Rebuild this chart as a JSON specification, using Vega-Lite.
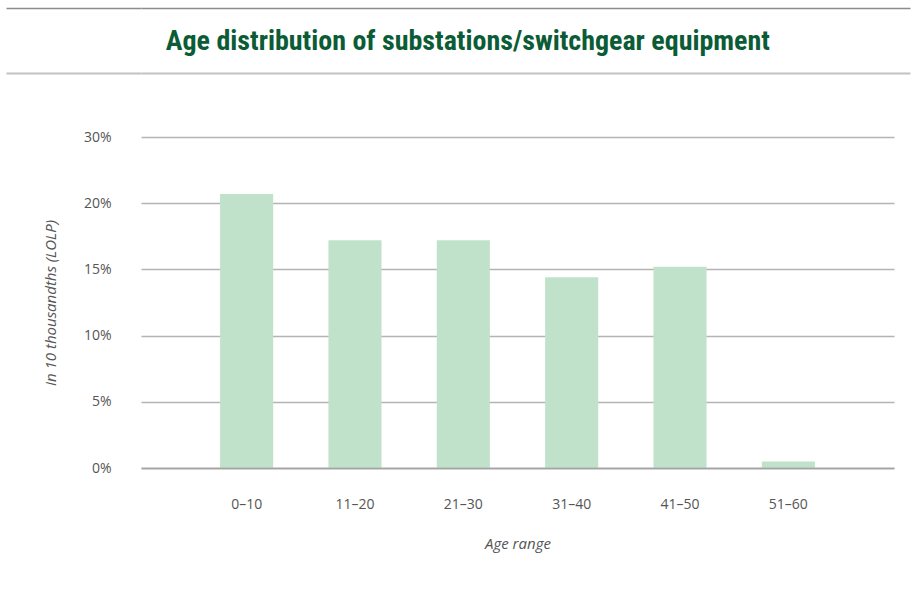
{
  "$schema": "https://vega.github.io/schema/vega-lite/v6.json",
  "padding": {"top": 7, "left": 5, "right": 5, "bottom": 5},
  "background": "white",
  "config": {
    "view": {"stroke": null},
    "font": "Open Sans"
  },
  "spacing": 56,
  "vconcat": [
    {
      "width": 769,
      "height": 65,
      "data": {"values": [{"t": "Age distribution of substations/switchgear equipment", "v": 0}]},
      "layer": [
        {
          "mark": {"type": "text", "font": "Liberation Sans Narrow, Roboto Condensed, Roboto", "fontSize": 28, "fontWeight": "bold", "color": "#0b5c36", "dy": 1},
          "encoding": {
            "x": {"field": "v", "type": "quantitative", "scale": {"domain": [-0.425, 0.575], "nice": false, "zero": false},
                  "axis": {"orient": "top", "domain": true, "domainColor": "#8c8c8c", "domainWidth": 1.5, "ticks": false, "labels": false, "grid": false, "title": null}},
            "y": {"field": "v", "type": "quantitative", "scale": {"domain": [-1, 1], "nice": false},
                  "axis": {"orient": "left", "values": [-1, 1], "domain": false, "labels": false, "grid": false, "title": null,
                           "ticks": true, "tickSize": 135,
                           "tickColor": {"condition": {"test": "datum.value > 0", "value": "#8c8c8c"}, "value": "#c2c2c2"},
                           "tickWidth": {"condition": {"test": "datum.value > 0", "value": 1.5}, "value": 2}}},
            "text": {"field": "t"}
          }
        },
        {
          "mark": {"type": "text", "opacity": 0},
          "encoding": {
            "x": {"field": "v", "type": "quantitative",
                  "axis": {"orient": "bottom", "domain": true, "domainColor": "#c2c2c2", "domainWidth": 2, "ticks": false, "labels": false, "grid": false, "title": null}},
            "y": {"field": "v", "type": "quantitative"},
            "text": {"field": "t"}
          }
        }
      ],
      "resolve": {"axis": {"x": "independent"}}
    },
    {
      "width": 753,
      "height": 331,
      "data": {"values": [
        {"age": "0–10", "share": 20.7},
        {"age": "11–20", "share": 17.2},
        {"age": "21–30", "share": 17.2},
        {"age": "31–40", "share": 14.4},
        {"age": "41–50", "share": 15.2},
        {"age": "51–60", "share": 0.5}
      ]},
      "mark": {"type": "bar", "color": "#c0e2cb"},
      "encoding": {
        "x": {
          "field": "age", "type": "nominal", "sort": null,
          "scale": {"paddingInner": 0.51, "paddingOuter": 0.73},
          "axis": {
            "labelAngle": 0, "ticks": false, "domain": true, "domainColor": "#9a9a9a", "domainOpacity": 0.6, "domainWidth": 2, "zindex": 1,
            "labelPadding": 29, "labelFontSize": 14, "labelColor": "#555555", "labelFont": "Open Sans",
            "title": "Age range", "titleFontSize": 15, "titleFontStyle": "italic", "titleFontWeight": "normal", "titleColor": "#555555", "titlePadding": 25, "titleFont": "Open Sans"
          }
        },
        "y": {
          "field": "share", "type": "quantitative",
          "scale": {"domain": [0, 25]},
          "axis": {
            "values": [0, 5, 10, 15, 20, 25],
            "labelExpr": "datum.value == 25 ? '30%' : datum.value + '%'",
            "ticks": false, "domain": false,
            "grid": true, "gridColor": "#b4b4b4", "gridWidth": 1.5,
            "labelPadding": 30, "labelFontSize": 14, "labelColor": "#555555", "labelFont": "Open Sans",
            "title": "In 10 thousandths (LOLP)",
            "titleFontSize": 15, "titleFontStyle": "italic", "titleFontWeight": "normal", "titleColor": "#555555", "titlePadding": 25, "titleFont": "Open Sans"
          }
        }
      }
    }
  ]
}
